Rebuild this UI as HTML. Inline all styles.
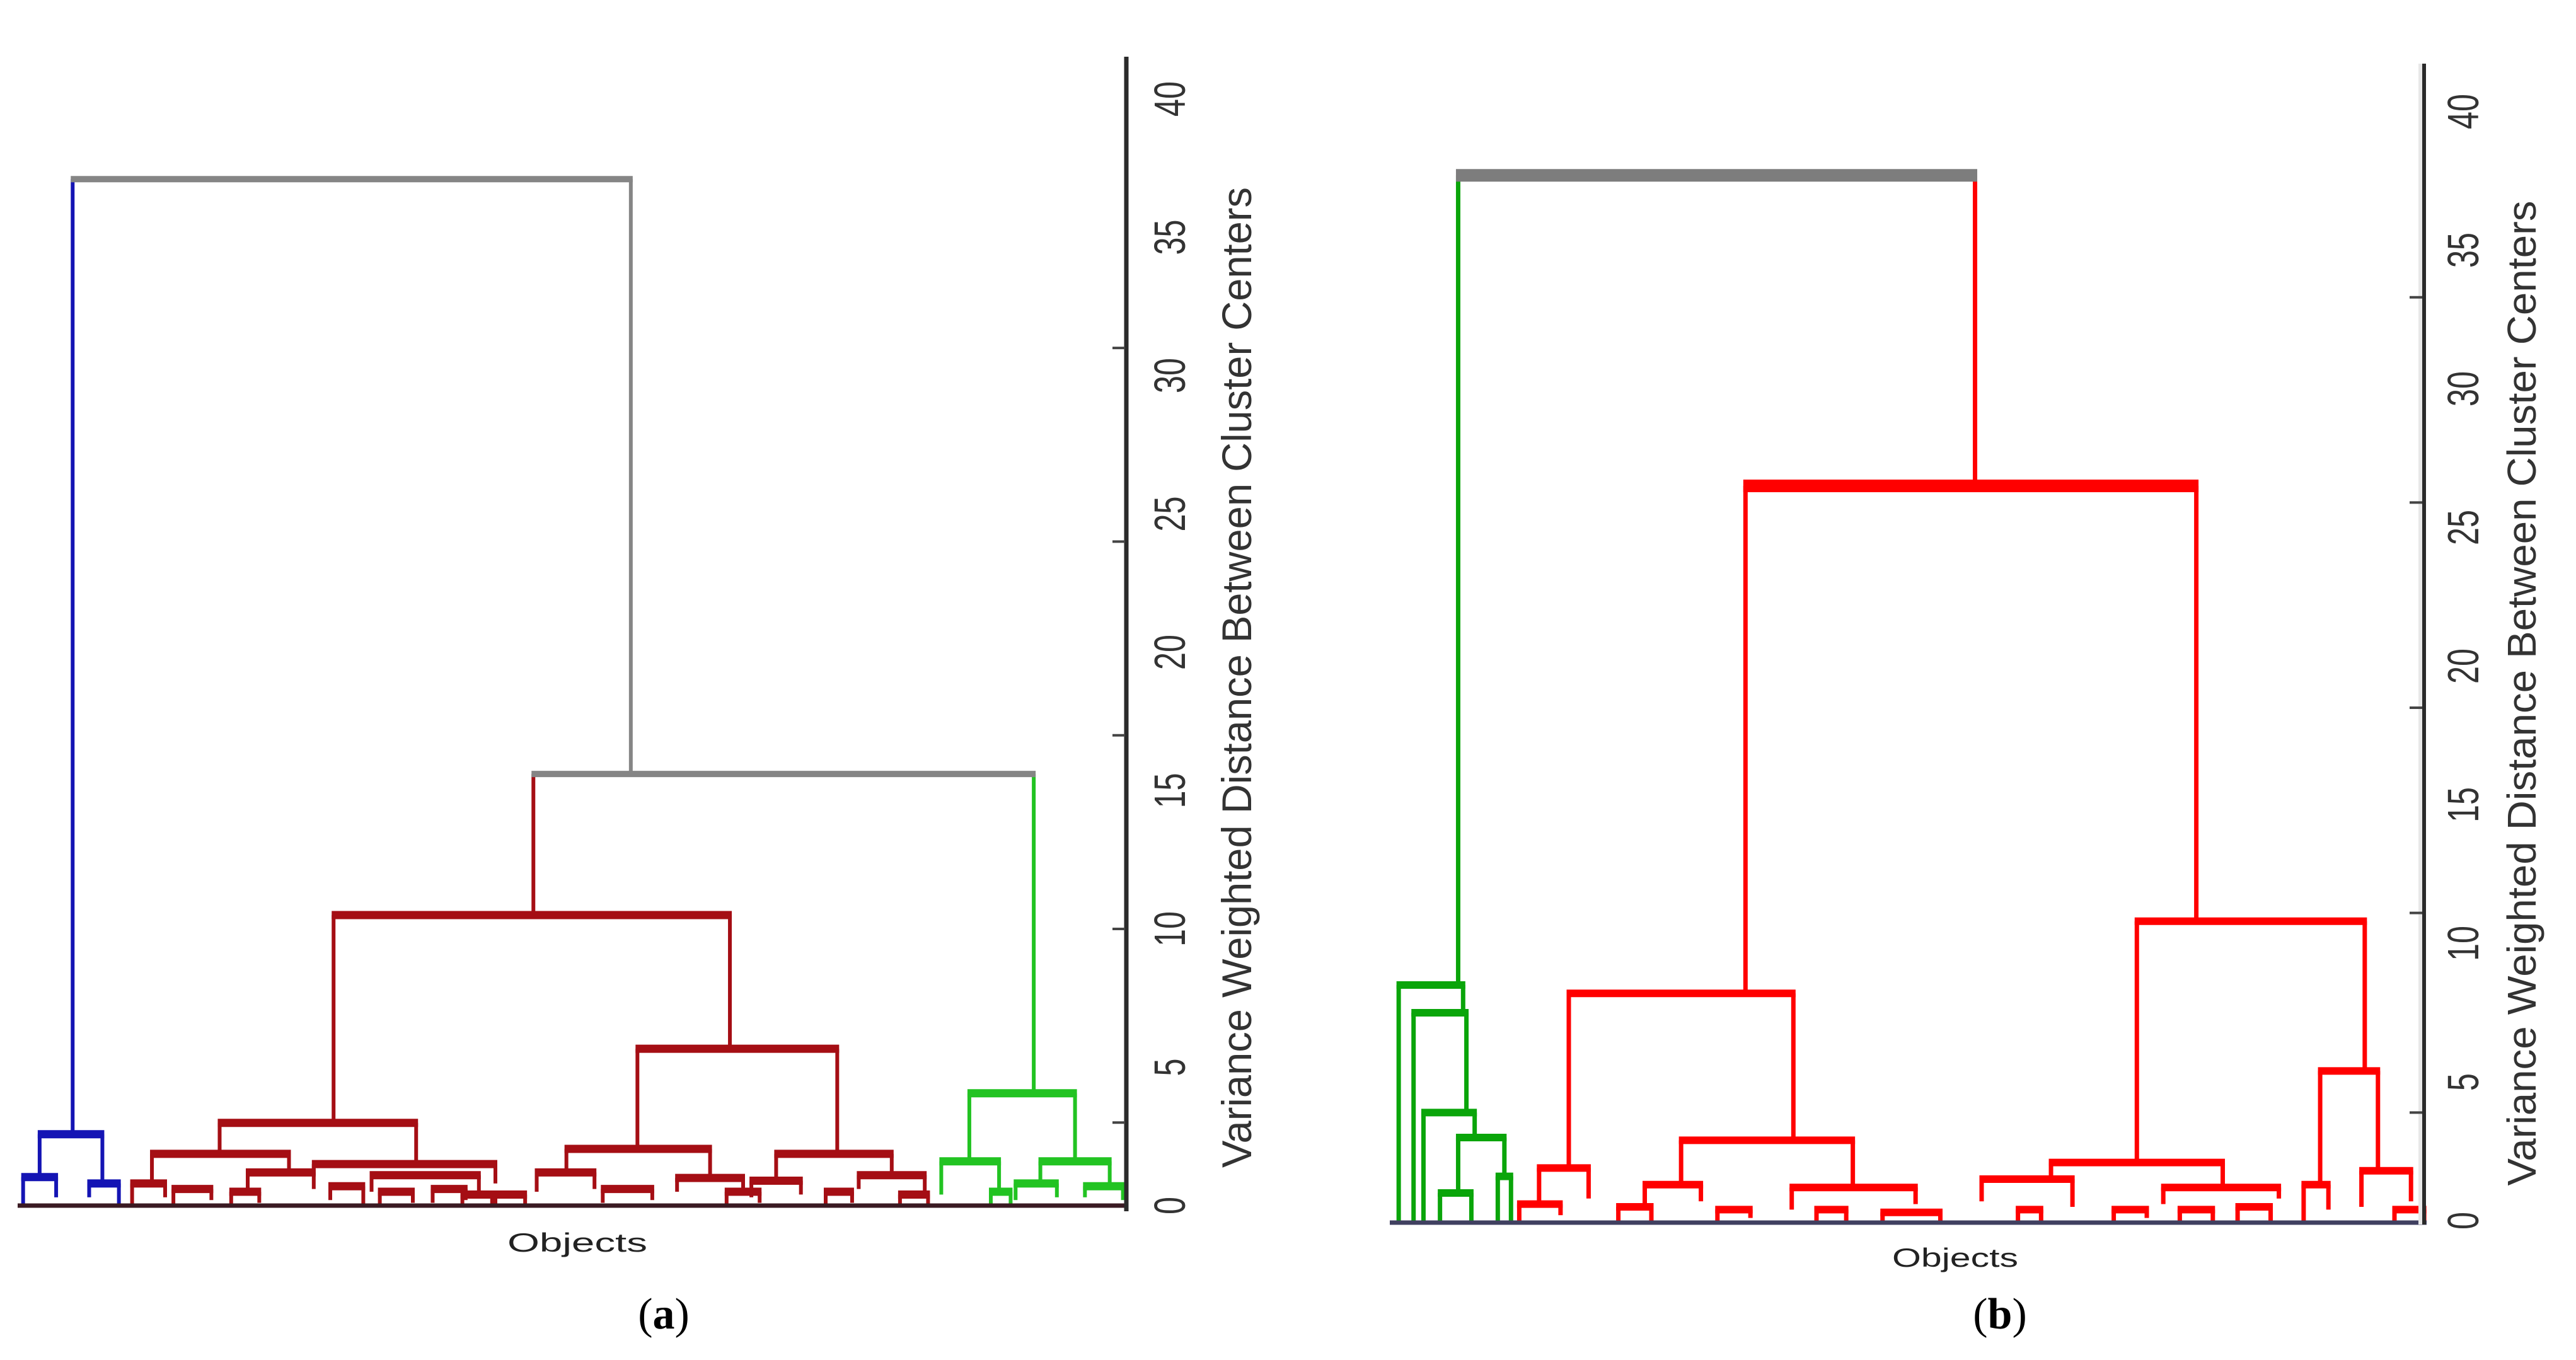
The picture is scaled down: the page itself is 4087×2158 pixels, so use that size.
<!DOCTYPE html>
<html><head><meta charset="utf-8"><style>
html,body{margin:0;padding:0;background:#fff;}
svg{display:block;}
</style></head>
<body>
<svg id="fig" width="4087" height="2158" viewBox="0 0 4087 2158" xmlns="http://www.w3.org/2000/svg">
<rect width="4087" height="2158" fill="#fff"/>
<g id="chartA"></g>
<g id="chartB"></g>

<line x1="1787" y1="90" x2="1787" y2="1922" stroke="#2a2a2a" stroke-width="7"/>
<g id="axisA"></g>
<text x="1985" y="1075" transform="rotate(-90 1985 1075)" text-anchor="middle" font-family="Liberation Sans, sans-serif" font-size="66" fill="#333" textLength="1556" lengthAdjust="spacingAndGlyphs">Variance Weighted Distance Between Cluster Centers</text>
<text x="916" y="1986" text-anchor="middle" font-family="Liberation Sans, sans-serif" font-size="42" fill="#222" textLength="222" lengthAdjust="spacingAndGlyphs">Objects</text>
<text x="1053" y="2108" text-anchor="middle" font-family="Liberation Serif, serif" font-size="70" fill="#000">(<tspan font-weight="bold">a</tspan>)</text>

<line x1="3840" y1="101" x2="3840" y2="1943" stroke="#e8e8e8" stroke-width="6"/>
<line x1="3846" y1="101" x2="3846" y2="1943" stroke="#2a2a2a" stroke-width="6"/>
<g id="axisB"></g>
<text x="4023" y="1100" transform="rotate(-90 4023 1100)" text-anchor="middle" font-family="Liberation Sans, sans-serif" font-size="64" fill="#333" textLength="1563" lengthAdjust="spacingAndGlyphs">Variance Weighted Distance Between Cluster Centers</text>
<text x="3102" y="2010" text-anchor="middle" font-family="Liberation Sans, sans-serif" font-size="42" fill="#222" textLength="200" lengthAdjust="spacingAndGlyphs">Objects</text>
<text x="3173" y="2108" text-anchor="middle" font-family="Liberation Serif, serif" font-size="70" fill="#000">(<tspan font-weight="bold">b</tspan>)</text>
</svg>
<script>
// ---- chart A data ----
const linksA_xl = [44,323,202,133,386,587,24,14,54,92,150,80,190,225,343,325,410,470,455,520,570,630,615,657,105,140,200,262,300,365,500,545,230,280,440,600];
const linksA_xr = [382,626,442,252,507,651,62,34,72,175,190,100,300,290,430,360,450,540,485,560,605,672,640,680,128,157,220,282,318,395,516,562,250,298,460,612];
const linksA_h  = [37.1,15.6,10.5,2.99,5.67,4.06,2.58,1.03,0.8,1.87,1.2,0.8,1.5,1.1,2.05,1.2,1.0,1.87,0.9,1.1,1.6,1.6,0.8,0.7,0.6,0.5,0.7,0.6,0.4,0.6,0.5,0.4,0.5,0.4,0.5,0.5];
const linksA_hl = [2.58,10.5,2.99,1.87,2.05,1.6,1.03,0,0.3,0.8,0.4,0,1.1,0.5,1.2,0.5,0.5,0.9,0.3,0.6,0.4,0.8,0.2,0.3,0,0,0.2,0.1,0,0.1,0,0,0,0,0,0];
const linksA_hr = [15.6,4.06,5.67,1.5,1.87,1.6,0.8,0.3,0,1.2,0.6,0.3,0.8,0.4,1.0,0.6,0.4,1.1,0.4,0.5,0.5,0.7,0.3,0.2,0.2,0.1,0,0.2,0,0.2,0.1,0,0.1,0,0.1,0];
const colA = ["grey|blue|grey","grey|red|green","red","red","red","green","blue","blue","blue","red","red","red","red","red","red","red","red","red","red","red","green","green","green","green","red","red","red","red","red","red","red","red","red","red","red","green"];
const ticksA = [0,5,10,15,20,25,30,35,40];
const ticksMarksA = [3,10,17,24,31];

// ---- chart B data ----
const linksB_xl = [883,1057,950,1294,932,1018,996,1085,1242,1200,1310,1405,1395,1430,920,980,1040,1140,1222,1280,1355,1450,847,856,862,883,872,907,1100,1320];
const linksB_xr = [1196,1330,1086,1432,962,1122,1030,1160,1346,1255,1380,1440,1410,1460,945,1000,1060,1175,1236,1300,1375,1468,886,888,893,911,891,915,1118,1340];
const linksB_h  = [37.7,26.5,8.2,10.8,1.9,2.9,1.3,1.2,2.1,1.5,1.2,5.4,1.3,1.8,0.6,0.5,0.4,0.3,0.4,0.4,0.5,0.4,8.5,7.5,3.9,3.0,1.0,1.6,0.4,0.4];
const linksB_hl = [8.5,8.2,1.9,2.1,0.6,1.3,0.5,0.4,1.5,0.7,0.6,1.3,0,0.5,0,0,0,0,0,0,0,0,0,0,0,1.0,0,0,0,0];
const linksB_hr = [26.5,10.8,2.9,5.4,0.8,1.2,0.7,0.6,1.2,0.5,0.8,1.8,0.4,0.7,0.2,0,0.1,0,0,0.1,0,0,7.5,3.9,3.0,1.6,0,0,0,0];
const colB = ["grey|green|red","red","red","red","red","red","red","red","red","red","red","red","red","red","red","red","red","red","red","red","red","red","green","green","green","green","green","green","red","red"];
const ticksB = [0,5,10,15,20,25,30,35,40];
const ticksMarksB = [3.9,11.1,18.5,25.9,33.3];

const NS = "http://www.w3.org/2000/svg";
const palA = {grey:"#858585",blue:"#1414b4",red:"#a50e14",green:"#22c322"};
const palB = {grey:"#7d7d7d",green:"#0aa50a",red:"#ff0000"};

function xs(o){ return o*2.62; }
function ysA(v){ return 1913 - v*43.9; }
function ysB(v){ return 1937 - v*44.0; }

function drawTree(gid, xl, xr, h, hl, hr, cols, pal, ys, defCol, hw, vw){
  const g = document.getElementById(gid);
  for(let i=0;i<xl.length;i++){
    const c = (cols[i]||defCol).split("|");
    const ch = pal[c[0]], cl = pal[c[1]||c[0]], cr = pal[c[2]||c[0]];
    const big = i<2;
    const vL = document.createElementNS(NS,"line");
    
    
    vL.setAttribute("x1",xs(xl[i]));vL.setAttribute("x2",xs(xl[i]));
    vL.setAttribute("y1",ys(h[i]));vL.setAttribute("y2",ys(hl[i]));
    vL.setAttribute("stroke",cl);vL.setAttribute("stroke-width",vw);
    g.appendChild(vL);
    const vR = document.createElementNS(NS,"line");
    
    
    vR.setAttribute("x1",xs(xr[i]));vR.setAttribute("x2",xs(xr[i]));
    vR.setAttribute("y1",ys(h[i]));vR.setAttribute("y2",ys(hr[i]));
    vR.setAttribute("stroke",cr);vR.setAttribute("stroke-width",vw);
    g.appendChild(vR);
    const hz = document.createElementNS(NS,"line");
    
    
    hz.setAttribute("x1",xs(xl[i])-vw/2);hz.setAttribute("x2",xs(xr[i])+vw/2);
    hz.setAttribute("y1",ys(h[i]));hz.setAttribute("y2",ys(h[i]));
    hz.setAttribute("stroke",ch);hz.setAttribute("stroke-width",big?hw[0]:hw[1]);
    g.appendChild(hz);
  }
}
drawTree("chartA",linksA_xl,linksA_xr,linksA_h,linksA_hl,linksA_hr,colA,palA,ysA,"red",[10,13],6);
drawTree("chartB",linksB_xl,linksB_xr,linksB_h,linksB_hl,linksB_hr,colB,palB,ysB,"red",[20,12],7);

function baseline(gid,x1,x2,y,col){
  const b=document.createElementNS(NS,"line");
  
  
  b.setAttribute("x1",x1);b.setAttribute("x2",x2);b.setAttribute("y1",y);b.setAttribute("y2",y);
  b.setAttribute("stroke",col);b.setAttribute("stroke-width",7);
  document.getElementById(gid).appendChild(b);
}
baseline("chartA",28,1790,1913,"#3a1a22");
baseline("chartB",2205,3850,1940,"#404060");

function drawAxis(gid, ticks, marks, ys, axX, labX){
  const g=document.getElementById(gid);
  ticks.forEach(t=>{
    const tx=document.createElementNS(NS,"text");
    
    
    const y=ys(t);
    tx.setAttribute("x",labX);tx.setAttribute("y",y);
    tx.setAttribute("transform","rotate(-90 "+labX+" "+y+")");
    tx.setAttribute("text-anchor","middle");
    tx.setAttribute("dominant-baseline","central");
    tx.setAttribute("font-family","Liberation Sans, sans-serif");
    tx.setAttribute("font-size","70");
    tx.setAttribute("fill","#333");
    tx.setAttribute("textLength", String(t).length>1 ? "56" : "28");
    tx.setAttribute("lengthAdjust","spacingAndGlyphs");
    tx.textContent=String(t);
    g.appendChild(tx);
  });
  marks.forEach(m=>{
    const l=document.createElementNS(NS,"line");
    
    
    l.setAttribute("x1",axX-20);l.setAttribute("x2",axX);
    l.setAttribute("y1",ys(m));l.setAttribute("y2",ys(m));
    l.setAttribute("stroke","#444");l.setAttribute("stroke-width",4);
    g.appendChild(l);
  });
}
drawAxis("axisA",ticksA,ticksMarksA,ysA,1785,1856);
drawAxis("axisB",ticksB,ticksMarksB,ysB,3843,3908);
</script>
</body></html>
